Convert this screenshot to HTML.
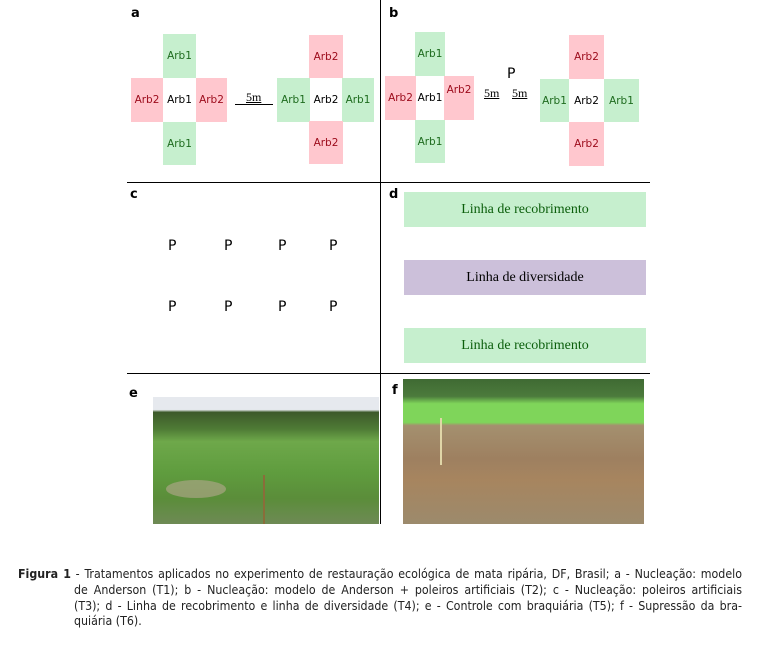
<!DOCTYPE html>
<html><head><meta charset="utf-8"><style>
body{margin:0;width:758px;height:650px;background:#fff;position:relative;overflow:hidden;font-family:"DejaVu Sans","Liberation Sans",sans-serif}
div{position:absolute;box-sizing:border-box}
.c{display:flex;align-items:center;justify-content:center;font-size:10.5px}
.g{background:#c6efce;color:#1e6b1e}
.r{background:#ffc7ce;color:#9c0a1a}
.w{background:#fff;color:#000}
.L{font-weight:bold;font-size:13px;font-family:"DejaVu Sans",sans-serif}
.P{font-size:14px;font-family:"DejaVu Sans",sans-serif}
.m{font-family:"Liberation Serif",serif;font-size:12px;text-decoration:underline}
.bar{left:404px;width:242px;height:35px;display:flex;align-items:center;justify-content:center;font-family:"Liberation Serif",serif;font-size:14px}
.cap{font-family:'DejaVu Sans Condensed','Liberation Sans Narrow','Liberation Sans',sans-serif;font-size:12.3px;line-height:15px;color:#222;white-space:nowrap;text-align:justify;text-align-last:justify;left:74px;width:668px}
</style></head><body>
<div style="left:380px;top:0;width:1px;height:524px;background:#000"></div>
<div style="left:127px;top:182px;width:523px;height:1px;background:#000"></div>
<div style="left:127px;top:373px;width:523px;height:1px;background:#000"></div>
<div class="L" style="left:131px;top:6px">a</div>
<div class="L" style="left:389px;top:6px">b</div>
<div class="L" style="left:130px;top:187px">c</div>
<div class="L" style="left:389px;top:187px">d</div>
<div class="L" style="left:129px;top:386px">e</div>
<div class="L" style="left:392px;top:383px">f</div>
<div class="c g" style="left:163px;top:34px;width:33px;height:44px">Arb1</div>
<div class="c r" style="left:131px;top:78px;width:32px;height:44px">Arb2</div>
<div class="c w" style="left:163px;top:78px;width:33px;height:44px">Arb1</div>
<div class="c r" style="left:196px;top:78px;width:31px;height:44px">Arb2</div>
<div class="c g" style="left:163px;top:122px;width:33px;height:43px">Arb1</div>
<div class="m" style="left:246px;top:90px">5m</div>
<div style="left:235px;top:104px;width:38px;height:1px;background:#000"></div>
<div class="c r" style="left:309px;top:35px;width:34px;height:43px">Arb2</div>
<div class="c g" style="left:277px;top:78px;width:33px;height:44px">Arb1</div>
<div class="c w" style="left:310px;top:78px;width:32px;height:44px">Arb2</div>
<div class="c g" style="left:342px;top:78px;width:32px;height:44px">Arb1</div>
<div class="c r" style="left:309px;top:121px;width:34px;height:43px">Arb2</div>
<div class="c g" style="left:415px;top:32px;width:30px;height:44px">Arb1</div>
<div class="c r" style="left:385px;top:76px;width:31px;height:44px">Arb2</div>
<div class="c w" style="left:416px;top:76px;width:28px;height:44px">Arb1</div>
<div class="c r" style="left:444px;top:76px;width:30px;height:44px;align-items:flex-start;padding-top:8px">Arb2</div>
<div class="c g" style="left:415px;top:120px;width:30px;height:43px">Arb1</div>
<div class="m" style="left:484px;top:86px">5m</div>
<div class="m" style="left:512px;top:86px">5m</div>
<div class="P" style="left:507px;top:66px">P</div>
<div class="c r" style="left:569px;top:35px;width:35px;height:44px">Arb2</div>
<div class="c g" style="left:540px;top:79px;width:29px;height:43px">Arb1</div>
<div class="c w" style="left:569px;top:79px;width:35px;height:43px">Arb2</div>
<div class="c g" style="left:604px;top:79px;width:35px;height:43px">Arb1</div>
<div class="c r" style="left:569px;top:122px;width:35px;height:44px">Arb2</div>
<div class="P" style="left:168px;top:238px">P</div>
<div class="P" style="left:224px;top:238px">P</div>
<div class="P" style="left:278px;top:238px">P</div>
<div class="P" style="left:329px;top:238px">P</div>
<div class="P" style="left:168px;top:299px">P</div>
<div class="P" style="left:224px;top:299px">P</div>
<div class="P" style="left:278px;top:299px">P</div>
<div class="P" style="left:329px;top:299px">P</div>
<div class="bar" style="top:192px;background:#c6efce;color:#0b5e0b">Linha de recobrimento</div>
<div class="bar" style="top:260px;background:#ccc0da;color:#000">Linha de diversidade</div>
<div class="bar" style="top:328px;background:#c6efce;color:#0b5e0b">Linha de recobrimento</div>
<div style="left:153px;top:397px;width:226px;height:127px;background:linear-gradient(#e6e9ee 0%,#e6e9ee 10%,#3d5a2a 12%,#4e7a35 25%,#6ea84a 35%,#5f9c3e 60%,#5b8d3a 80%,#6e8a55 100%)"></div>
<div style="left:166px;top:480px;width:60px;height:18px;background:#b5a98f;border-radius:50%;opacity:.6"></div>
<div style="left:263px;top:475px;width:2px;height:49px;background:#8a6d3a"></div>
<div style="left:403px;top:379px;width:241px;height:145px;background:linear-gradient(#3f6a33 0%,#4c7b3c 12%,#7fd55a 17%,#7fd55a 30%,#a4906f 32%,#9e8060 55%,#a7855f 70%,#9c8a6c 100%)"></div>
<div style="left:440px;top:418px;width:2px;height:47px;background:#e0d6a8"></div>
<div class="cap" style="left:18px;width:724px;top:567px"><b>Figura 1</b> - Tratamentos aplicados no experimento de restauração ecológica de mata ripária, DF, Brasil; a - Nucleação: modelo</div>
<div class="cap" style="top:583px">de Anderson (T1); b - Nucleação: modelo de Anderson + poleiros artificiais (T2); c - Nucleação: poleiros artificiais</div>
<div class="cap" style="top:599px">(T3); d - Linha de recobrimento e linha de diversidade (T4); e - Controle com braquiária (T5); f - Supressão da bra-</div>
<div class="cap" style="top:614px;text-align-last:left;width:auto">quiária (T6).</div>
</body></html>
